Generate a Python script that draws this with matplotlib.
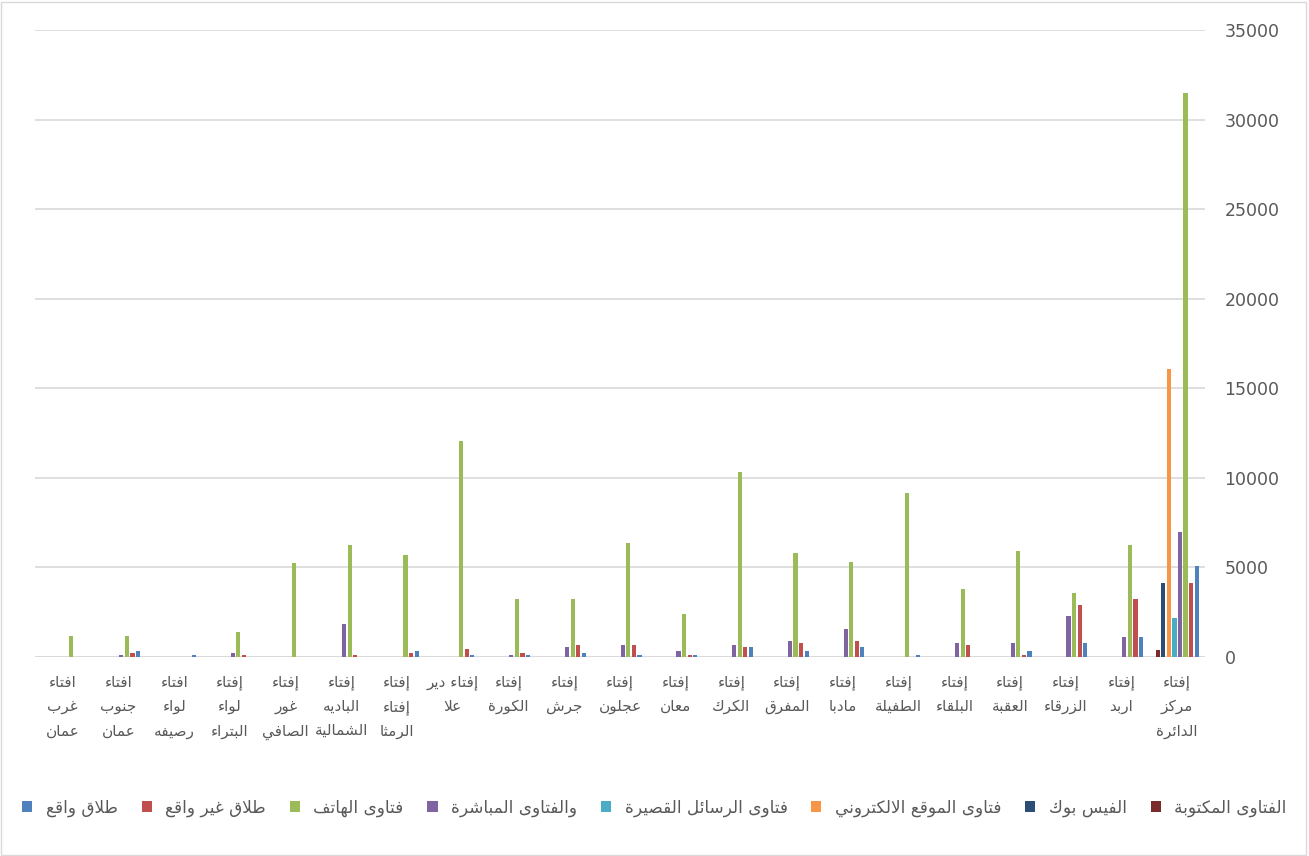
import numpy as np
import matplotlib
matplotlib.use("Agg")
import matplotlib.pyplot as plt
from matplotlib.patches import Patch, Rectangle

# categories (first one is drawn on the right, Arabic order)
categories = [
    "إفتاء\nمركز\nالدائرة", "إفتاء\nاربد", "إفتاء\nالزرقاء", "إفتاء\nالعقبة",
    "إفتاء\nالبلقاء", "إفتاء\nالطفيلة", "إفتاء\nمادبا", "إفتاء\nالمفرق",
    "إفتاء\nالكرك", "إفتاء\nمعان", "إفتاء\nعجلون", "إفتاء\nجرش",
    "إفتاء\nالكورة", "إفتاء دير\nعلا", "إفتاء\nإفتاء\nالرمثا",
    "إفتاء\nالباديه\nالشمالية", "إفتاء\nغور\nالصافي", "إفتاء\nلواء\nالبتراء",
    "افتاء\nلواء\nرصيفه", "افتاء\nجنوب\nعمان", "افتاء\nغرب\nعمان",
]

series_names = [
    "الفتاوى المكتوبة", "الفيس بوك", "فتاوى الموقع الالكتروني",
    "فتاوى الرسائل القصيرة", "والفتاوى المباشرة", "فتاوى الهاتف",
    "طلاق غير واقع", "طلاق واقع",
]
series_colors = ["#7B2C2A", "#2C4D75", "#F79646", "#4BACC6",
                 "#8064A2", "#9BBB59", "#C0504D", "#4F81BD"]

written = [400, 0, 0, 0, 0, 0, 0, 0, 0, 0, 0, 0, 0, 0, 0, 0, 0, 0, 0, 0, 0]
facebook = [4150, 0, 0, 0, 0, 0, 0, 0, 0, 0, 0, 0, 0, 0, 0, 0, 0, 0, 0, 0, 0]
website = [16100, 0, 0, 0, 0, 0, 0, 0, 0, 0, 0, 0, 0, 0, 0, 0, 0, 0, 0, 0, 0]
sms = [2200, 0, 0, 0, 0, 0, 0, 0, 0, 0, 0, 0, 0, 0, 0, 0, 0, 0, 0, 0, 0]
direct = [6950, 1100, 2300, 780, 780, 0, 1550, 890, 670, 330, 650,
          540, 130, 0, 0, 1840, 0, 220, 0, 100, 0]
phone = [31500, 6250, 3560, 5920, 3780, 9180, 5290, 5820, 10350, 2380, 6350,
         3220, 3220, 12080, 5700, 6230, 5270, 1410, 0, 1190, 1190]
divorce_no = [4130, 3220, 2900, 100, 650, 0, 890, 760, 560, 130, 650,
              650, 220, 450, 220, 130, 0, 130, 0, 220, 0]
divorce_yes = [5080, 1100, 770, 330, 0, 110, 560, 330, 560, 130, 130,
               240, 130, 130, 330, 0, 0, 0, 110, 330, 0]

all_series = [written, facebook, website, sms, direct, phone, divorce_no, divorce_yes]


# small arabic shaper: matplotlib has no bidi / joining support
FORMS = {
    'ء': (0xFE80, 1), 'آ': (0xFE81, 2), 'أ': (0xFE83, 2), 'ؤ': (0xFE85, 2),
    'إ': (0xFE87, 2), 'ئ': (0xFE89, 4), 'ا': (0xFE8D, 2), 'ب': (0xFE8F, 4),
    'ة': (0xFE93, 2), 'ت': (0xFE95, 4), 'ث': (0xFE99, 4), 'ج': (0xFE9D, 4),
    'ح': (0xFEA1, 4), 'خ': (0xFEA5, 4), 'د': (0xFEA9, 2), 'ذ': (0xFEAB, 2),
    'ر': (0xFEAD, 2), 'ز': (0xFEAF, 2), 'س': (0xFEB1, 4), 'ش': (0xFEB5, 4),
    'ص': (0xFEB9, 4), 'ض': (0xFEBD, 4), 'ط': (0xFEC1, 4), 'ظ': (0xFEC5, 4),
    'ع': (0xFEC9, 4), 'غ': (0xFECD, 4), 'ف': (0xFED1, 4), 'ق': (0xFED5, 4),
    'ك': (0xFED9, 4), 'ل': (0xFEDD, 4), 'م': (0xFEE1, 4), 'ن': (0xFEE5, 4),
    'ه': (0xFEE9, 4), 'و': (0xFEED, 2), 'ى': (0xFEEF, 2), 'ي': (0xFEF1, 4),
}
LAM_ALEF = {'آ': (0xFEF5, 2), 'أ': (0xFEF7, 2), 'إ': (0xFEF9, 2), 'ا': (0xFEFB, 2)}


def shape_line(line):
    units = []
    i = 0
    while i < len(line):
        c = line[i]
        if c == 'ل' and i + 1 < len(line) and line[i + 1] in LAM_ALEF:
            units.append(LAM_ALEF[line[i + 1]])
            i += 2
        else:
            units.append(FORMS.get(c, c))
            i += 1
    out = []
    for k, u in enumerate(units):
        if isinstance(u, str):
            out.append(u)
            continue
        base, n = u
        prev = units[k - 1] if k > 0 else None
        nxt = units[k + 1] if k + 1 < len(units) else None
        cp = n >= 2 and isinstance(prev, tuple) and prev[1] == 4
        cn = n == 4 and isinstance(nxt, tuple) and nxt[1] >= 2
        if cp and cn:
            off = 3
        elif cp:
            off = 1
        elif cn:
            off = 2
        else:
            off = 0
        out.append(chr(base + off))
    return "".join(out[::-1])


def ar(text):
    return "\n".join(shape_line(l) for l in text.split("\n"))


plt.rcParams['font.family'] = ['DejaVu Sans']
text_color = "#595959"

fig = plt.figure(figsize=(13.09, 8.56), dpi=100)
ax = fig.add_axes([0.0267, 0.2325, 0.8939, 0.7325])

x = np.arange(len(categories))
step = 0.1
for j, vals in enumerate(all_series):
    ax.bar(x + (3.5 - j) * step, vals, width=0.075, color=series_colors[j],
           zorder=3)

ax.set_xlim(20.5, -0.5)
ax.set_ylim(0, 35000)
ax.set_yticks(np.arange(0, 35001, 5000))
ax.yaxis.tick_right()
ax.tick_params(axis='y', length=0, pad=14, labelsize=12.5, labelcolor=text_color)
ax.set_xticks(x)
ax.set_xticklabels([ar(c) for c in categories], fontsize=11,
                   color=text_color, linespacing=1.75)
ax.tick_params(axis='x', length=0, pad=13)
ax.grid(axis='y', color="#D9D9D9", linewidth=1.2, zorder=0)
for s in ax.spines.values():
    s.set_visible(False)
ax.axhline(0, color="#D9D9D9", linewidth=1.2, zorder=2)

# legend, left to right is the reverse of the series order
handles = [Patch(facecolor=series_colors[j]) for j in range(7, -1, -1)]
labels = [ar(series_names[j]) for j in range(7, -1, -1)]
fig.legend(handles, labels, loc='center', bbox_to_anchor=(0.5, 1 - 808 / 856),
           ncol=8, frameon=False, fontsize=12.2, labelcolor=text_color,
           handlelength=0.6, handleheight=0.6, handletextpad=0.8,
           columnspacing=1.4)

fig.patches.append(Rectangle((0.001, 0.001), 0.997, 0.997, transform=fig.transFigure,
                             fill=False, edgecolor="#D9D9D9", linewidth=1))

fig.savefig("out.png", dpi=100, facecolor="white")
